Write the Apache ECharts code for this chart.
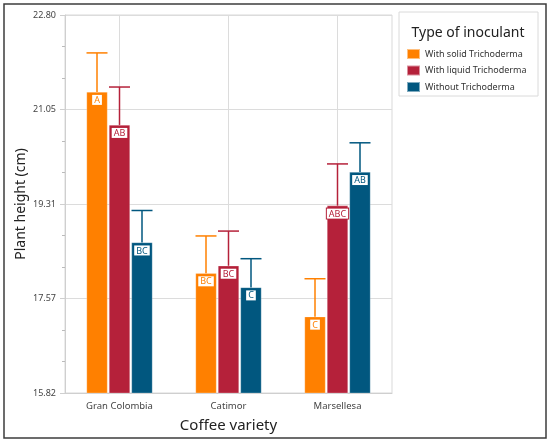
<!DOCTYPE html>
<html>
<head>
    <meta charset="utf-8">
    <title>Plant height by coffee variety</title>
    <style>
        html, body { margin: 0; padding: 0; background: #fff; }
        #chart { width: 550px; height: 442px; }
    </style>
</head>
<body>
    <div id="chart"></div>
    <script src="https://cdn.jsdelivr.net/npm/echarts@6/dist/echarts.min.js"></script>
    <script>
        // data
        var categories = ['Gran Colombia', 'Catimor', 'Marsellesa'];
        var seriesNames = ['With solid Trichoderma', 'With liquid Trichoderma', 'Without Trichoderma'];
        var solidMean = [21.38, 18.03, 17.23];
        var solidUpper = [22.10, 18.72, 17.93];
        var liquidMean = [20.77, 18.17, 19.28];
        var liquidUpper = [21.47, 18.81, 20.05];
        var withoutMean = [18.60, 17.77, 19.90];
        var withoutUpper = [19.19, 18.30, 20.44];
        var solidLetters = ['A', 'BC', 'C'];
        var liquidLetters = ['AB', 'BC', 'ABC'];
        var withoutLetters = ['BC', 'C', 'AB'];
        var yTickLabels = ['15.82', '17.57', '19.31', '21.05', '22.80'];

        var colors = ['#ff8000', '#b5213a', '#01577f'];
        var barWidth = 21;
        var step = 22.5; // bar width + gap
        var font = 'Noto Sans';

        var groups = [
            [solidMean, solidUpper, solidLetters],
            [liquidMean, liquidUpper, liquidLetters],
            [withoutMean, withoutUpper, withoutLetters]
        ];

        var chart = echarts.init(document.getElementById('chart'));
        var series = [];

        // vertical grid lines at category centres, kept under the bars
        series.push({
            type: 'line',
            data: [],
            z: 0,
            silent: true,
            markLine: {
                z: 0,
                silent: true,
                symbol: 'none',
                label: { show: false },
                lineStyle: { color: '#dcdcdc', width: 1, type: 'solid' },
                data: categories.map(function (c) { return { xAxis: c }; })
            }
        });

        groups.forEach(function (g, k) {
            var letters = g[2];
            series.push({
                name: seriesNames[k],
                type: 'bar',
                z: 2,
                barWidth: barWidth,
                barGap: '7%',
                data: g[0],
                itemStyle: { color: colors[k], borderColor: 'rgba(255,255,255,0.5)', borderWidth: 0.5 },
                label: {
                    show: true,
                    position: 'insideTop',
                    distance: 3,
                    formatter: function (p) { return letters[p.dataIndex]; },
                    color: colors[k],
                    backgroundColor: '#fff',
                    borderColor: colors[k],
                    borderWidth: 1,
                    padding: [1, 2, 0, 2],
                    fontSize: 9,
                    fontFamily: font
                }
            });
        });

        // upper error whiskers
        groups.forEach(function (g, k) {
            var offset = (k - 1) * step;
            series.push({
                type: 'custom',
                z: 3,
                silent: true,
                data: categories.map(function (c, i) { return [i, g[0][i], g[1][i]]; }),
                encode: { x: 0, y: 2 },
                renderItem: function (params, api) {
                    var base = api.coord([api.value(0), api.value(1)]);
                    var top = api.coord([api.value(0), api.value(2)]);
                    var x = base[0] + offset;
                    var style = { stroke: colors[k], lineWidth: 1.5 };
                    return {
                        type: 'group',
                        children: [
                            { type: 'line', shape: { x1: x, y1: base[1], x2: x, y2: top[1] }, style: style },
                            { type: 'line', shape: { x1: x - barWidth / 2, y1: top[1], x2: x + barWidth / 2, y2: top[1] }, style: style }
                        ]
                    };
                }
            });
        });

        var option = {
            animation: false,
            grid: {
                left: 65, right: 158, top: 15, bottom: 49,
                show: true, borderColor: '#d9d9d9', borderWidth: 1
            },
            legend: {
                data: seriesNames,
                orient: 'vertical',
                left: 401,
                top: 43,
                icon: 'rect',
                itemWidth: 13,
                itemHeight: 10,
                itemGap: 4.5,
                textStyle: { fontSize: 9, color: '#333', fontFamily: font },
                selectedMode: false
            },
            xAxis: {
                type: 'category',
                data: categories,
                name: 'Coffee variety',
                nameLocation: 'middle',
                nameGap: 25,
                nameMoveOverlap: false,
                nameTextStyle: { fontSize: 15, color: '#222', fontFamily: font },
                axisLine: { lineStyle: { color: '#cfcfcf' } },
                axisTick: { alignWithLabel: true, inside: true, length: 3, lineStyle: { color: '#aaa' } },
                axisLabel: { fontSize: 9.5, color: '#444', margin: 8, fontFamily: font }
            },
            yAxis: {
                type: 'value',
                min: 15.82,
                max: 22.80,
                interval: 1.745,
                name: 'Plant height (cm)',
                nameLocation: 'middle',
                nameGap: 37,
                nameMoveOverlap: false,
                nameTextStyle: { fontSize: 14, color: '#222', fontFamily: font },
                axisLine: { show: true, lineStyle: { color: '#cfcfcf' } },
                axisTick: { show: true, length: 5, lineStyle: { color: '#cfcfcf' } },
                minorTick: { show: true, splitNumber: 3, length: 3, lineStyle: { color: '#bbb' } },
                splitLine: { lineStyle: { color: '#dcdcdc' } },
                axisLabel: {
                    fontSize: 9,
                    color: '#444',
                    margin: 9,
                    fontFamily: font,
                    formatter: function (v, i) { return yTickLabels[i]; }
                }
            },
            graphic: [
                {
                    type: 'rect',
                    shape: { x: 4, y: 4, width: 542, height: 434 },
                    style: { fill: 'none', stroke: '#3c3c3c', lineWidth: 1.5 },
                    silent: true
                },
                {
                    type: 'rect',
                    z: -1,
                    shape: { x: 399, y: 12, width: 139, height: 84 },
                    style: { fill: '#fff', stroke: '#dadada', lineWidth: 1 },
                    silent: true
                },
                {
                    type: 'text',
                    x: 468,
                    y: 33,
                    style: {
                        text: 'Type of inoculant',
                        align: 'center',
                        verticalAlign: 'middle',
                        fontSize: 14,
                        fill: '#222',
                        fontFamily: font
                    },
                    silent: true
                }
            ],
            series: series
        };

        chart.setOption(option);
        window.addEventListener('resize', function () {
            chart.resize();
        });
    </script>
</body>
</html>
